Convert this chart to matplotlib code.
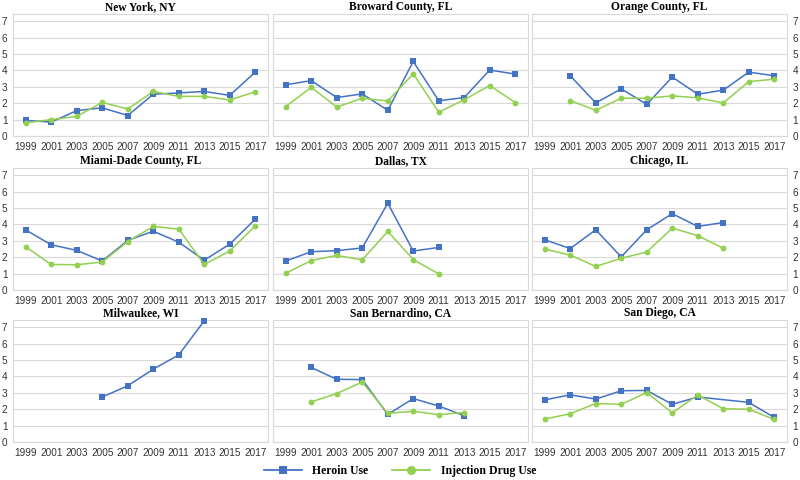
import numpy as np
import matplotlib
matplotlib.use('Agg')
import matplotlib.pyplot as plt
from matplotlib.lines import Line2D

# data (rates), None = no value
years = [1999, 2001, 2003, 2005, 2007, 2009, 2011, 2013, 2015, 2017]
cities = ['New York, NY', 'Broward County, FL', 'Orange County, FL',
          'Miami-Dade County, FL', 'Dallas, TX', 'Chicago, IL',
          'Milwaukee, WI', 'San Bernardino, CA', 'San Diego, CA']

ny_heroin = [0.95, 0.85, 1.55, 1.72, 1.25, 2.55, 2.63, 2.72, 2.48, 3.9]
ny_idu = [0.8, 1.0, 1.2, 2.05, 1.65, 2.72, 2.42, 2.42, 2.2, 2.7]
broward_heroin = [3.13, 3.38, 2.35, 2.57, 1.57, 4.55, 2.15, 2.35, 4.03, 3.78]
broward_idu = [1.8, 2.97, 1.77, 2.3, 2.14, 3.8, 1.45, 2.22, 3.08, 2.04]
orange_heroin = [None, 3.68, 2.02, 2.88, 1.93, 3.6, 2.55, 2.8, 3.9, 3.68]
orange_idu = [None, 2.16, 1.57, 2.31, 2.31, 2.45, 2.33, 2.02, 3.32, 3.47]
miami_heroin = [3.67, 2.76, 2.42, 1.77, 3.03, 3.59, 2.92, 1.82, 2.8, 4.32]
miami_idu = [2.63, 1.56, 1.54, 1.71, 2.96, 3.88, 3.72, 1.56, 2.38, 3.92]
dallas_heroin = [1.77, 2.34, 2.4, 2.57, 5.3, 2.38, 2.6, None, None, None]
dallas_idu = [1.02, 1.8, 2.11, 1.84, 3.58, 1.86, 0.98, None, None, None]
chicago_heroin = [3.07, 2.53, 3.68, 2.02, 3.68, 4.66, 3.88, 4.12, None, None]
chicago_idu = [2.5, 2.13, 1.44, 1.94, 2.32, 3.78, 3.32, 2.55, None, None]
milwaukee_heroin = [None, None, None, 2.75, 3.43, 4.45, 5.32, 7.4, None, None]
milwaukee_idu = [None] * 10
sanbern_heroin = [None, 4.55, 3.83, 3.81, 1.68, 2.65, 2.2, 1.6, None, None]
sanbern_idu = [None, 2.45, 2.96, 3.66, 1.75, 1.88, 1.67, 1.8, None, None]
sandiego_heroin = [2.57, 2.88, 2.62, 3.13, 3.15, 2.3, 2.75, None, 2.42, 1.5]
sandiego_idu = [1.4, 1.73, 2.35, 2.3, 3.02, 1.78, 2.87, 2.03, 2.0, 1.38]

heroin = [ny_heroin, broward_heroin, orange_heroin, miami_heroin, dallas_heroin,
          chicago_heroin, milwaukee_heroin, sanbern_heroin, sandiego_heroin]
idu = [ny_idu, broward_idu, orange_idu, miami_idu, dallas_idu,
       chicago_idu, milwaukee_idu, sanbern_idu, sandiego_idu]

blue = '#4472C4'
green = '#92D050'
grid_col = '#d9d9d9'
label_col = '#333333'
serif = ['Liberation Serif', 'DejaVu Serif']
sans = ['Liberation Sans', 'DejaVu Sans']

fig = plt.figure(figsize=(8, 4.8), dpi=100)

col_left = [13, 273, 532]
row_bottom = [136, 290, 442]
w, h = 255, 122


def draw(ax, x, y, color, marker, ms):
    x = np.array(x, dtype=float)
    y = np.array([np.nan if v is None else v for v in y], dtype=float)
    ok = ~np.isnan(y)
    if ok.sum() == 0:
        return
    ax.plot(x[ok], y[ok], color=color, lw=1.1, marker=marker,
            markersize=ms, markeredgewidth=0, zorder=3, clip_on=False)


for i, city in enumerate(cities):
    r, c = divmod(i, 3)
    ax = fig.add_axes([col_left[c] / 800, 1 - row_bottom[r] / 480, w / 800, h / 480])
    draw(ax, years, heroin[i], blue, 's', 4.2)
    draw(ax, years, idu[i], green, 'o', 4.2)
    ax.set_xlim(1998, 2018)
    ax.set_ylim(0, 7.45)
    ax.set_xticks(years)
    ax.set_xticklabels([str(v) for v in years], fontfamily=sans, fontsize=7.2, color=label_col)
    ax.set_yticks(range(8))
    ax.grid(axis='y', color=grid_col, lw=0.8, zorder=0)
    for s in ax.spines.values():
        s.set_color(grid_col)
        s.set_linewidth(0.8)
    ax.tick_params(length=0, pad=4)
    if c == 0:
        ax.set_yticklabels([str(v) for v in range(8)], fontfamily=sans, fontsize=7.2, color=label_col)
    elif c == 2:
        ax.yaxis.tick_right()
        ax.set_yticklabels([str(v) for v in range(8)], fontfamily=sans, fontsize=7.2, color=label_col)
    else:
        ax.set_yticklabels([])
    ax.set_title(city, fontfamily=serif, fontweight='bold', fontsize=8.3, pad=3)

handles = [Line2D([], [], color=blue, lw=1.3, marker='s', markersize=5.5, markeredgewidth=0),
           Line2D([], [], color=green, lw=1.3, marker='o', markersize=6.5, markeredgewidth=0)]
fig.legend(handles, ['Heroin Use', 'Injection Drug Use'], loc='center',
           bbox_to_anchor=(0.5, 1 - 471 / 480), ncol=2, frameon=False,
           prop={'family': serif, 'weight': 'bold', 'size': 8.5},
           handlelength=3.2, columnspacing=2.0, handletextpad=0.9)

fig.savefig('out.png', dpi=100, facecolor='white')
